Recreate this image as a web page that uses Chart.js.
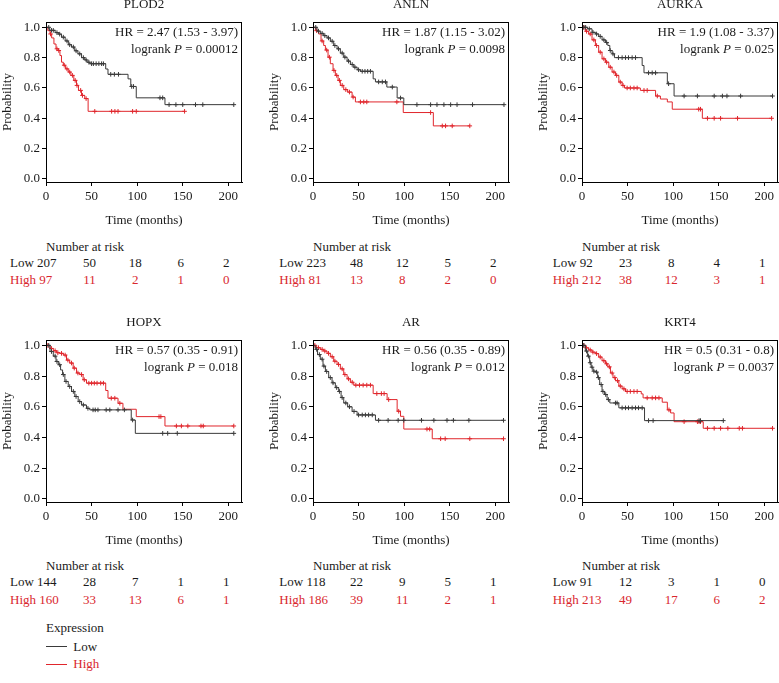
<!DOCTYPE html>
<html><head><meta charset="utf-8">
<script src="https://cdn.jsdelivr.net/npm/chart.js@4"></script>
<style>
html,body{margin:0;padding:0;background:#fff;width:779px;height:683px;overflow:hidden;position:relative;font-family:"Liberation Serif",serif;}
canvas{position:absolute;}
.t{position:absolute;font-size:13px;line-height:16px;white-space:nowrap;color:#1a1a1a;transform:translateY(-50%);}
.c{transform:translate(-50%,-50%);}
.red{color:#d9272e;}
.ln{position:absolute;height:0;border-top:1.3px solid #333;width:21px;}
</style></head><body>
<script>
// ---------- data ----------
const genes = ["PLOD2","ANLN","AURKA","HOPX","AR","KRT4"];
const hrLabels = ["HR = 2.47 (1.53 - 3.97)","HR = 1.87 (1.15 - 3.02)","HR = 1.9 (1.08 - 3.37)",
                  "HR = 0.57 (0.35 - 0.91)","HR = 0.56 (0.35 - 0.89)","HR = 0.5 (0.31 - 0.8)"];
const pValues = ["0.00012","0.0098","0.025","0.018","0.012","0.0037"];
const xTicks = [0,50,100,150,200];
const yTicks = [0,0.2,0.4,0.6,0.8,1.0];
const riskTimes = [0,50,100,150,200];

// survival steps [time, survival after step]
const plod2Low = [[0,1],[4,0.98],[10,0.965],[13.5,0.955],[17,0.935],[21,0.91],[24.5,0.885],[28,0.87],[31.5,0.845],[35,0.825],[39,0.80],[42.5,0.785],[45,0.77],[48,0.76],[65.5,0.725],[68,0.69],[90,0.66],[93,0.61],[99,0.535],[130.5,0.49],[206,0.49]];
const plod2LowCens = [3,6,8,12,15,19,23,26,30,33,37,41,44,47,50,52,55,58,61,63,71,75,79.5,94,96,125,128,135,142.5,150,164,172,206];
const plod2High = [[0,1],[2,0.978],[4.4,0.956],[6.2,0.93],[8.7,0.89],[11,0.858],[13.5,0.847],[15.3,0.814],[17,0.77],[19,0.75],[21.5,0.726],[24.4,0.705],[27.3,0.683],[30.5,0.65],[33.5,0.617],[35.6,0.584],[39,0.551],[42.5,0.53],[46.2,0.446],[152,0.446]];
const plod2HighCens = [5,12,14,20,23,26,29,32,34,38,40,44,53.5,72,75.6,79,95,99,152];

const anlnLow = [[0,1],[4.4,0.975],[8,0.96],[11.7,0.945],[15.4,0.93],[19,0.908],[22.7,0.88],[26.4,0.858],[30,0.83],[33.7,0.803],[37.4,0.777],[41,0.755],[44.7,0.737],[48.4,0.72],[52,0.71],[66,0.66],[68.5,0.64],[81,0.606],[92.3,0.534],[99.6,0.49],[209.5,0.49]];
const anlnLowCens = [3,6,10,13,17,21,24,28,32,35,39,43,46,50,54,57,60,63,72,76,79.5,87,96,114,129,136,143.6,151,158,175,209.5];
const anlnHigh = [[0,1],[2.6,0.978],[6.2,0.956],[8.8,0.91],[11.7,0.88],[13.6,0.85],[16.5,0.803],[19,0.76],[22,0.716],[24.5,0.683],[27.5,0.65],[30,0.617],[33.7,0.589],[38,0.573],[42.9,0.54],[46.5,0.508],[99,0.438],[132,0.35],[172,0.35]];
const anlnHighCens = [4,10,15,18,23,26,29,32,36,40,44,52,55.7,59,92,129,141.8,145.4,152.7,172];

const aurkaLow = [[0,1],[6,0.99],[11,0.967],[14.7,0.956],[18.3,0.94],[22,0.917],[25.7,0.9],[28.3,0.88],[30.5,0.847],[33,0.825],[35.6,0.8],[66,0.748],[68,0.70],[93.6,0.628],[101,0.547],[209,0.547]];
const aurkaLowCens = [2,4,8,12,16,20,24,27,31,34,40,44,47.7,51,55,58.7,73,77,80.7,95,112,126.6,145,154,159,174,209];
const aurkaHigh = [[0,1],[3.7,0.974],[7.3,0.956],[11,0.917],[14.7,0.88],[18.3,0.836],[22,0.792],[25.7,0.77],[29.4,0.737],[33,0.705],[36.7,0.683],[40.4,0.639],[44,0.617],[46.6,0.6],[64,0.584],[80.7,0.547],[86,0.527],[93.6,0.508],[99,0.46],[132,0.40],[208,0.40]];
const aurkaHighCens = [2,5,9,13,16,20,24,27,31,35,38,42,45,49.5,53,57,60.5,68,71.5,82.6,128,130,137.6,145,152,170.6,208];

const hopxLow = [[0,1],[4.4,0.96],[8,0.93],[11,0.895],[13.5,0.874],[16,0.84],[18.2,0.81],[20.7,0.765],[24.4,0.732],[28,0.70],[31.6,0.667],[35.3,0.634],[39,0.612],[44.4,0.59],[48,0.58],[93.5,0.514],[98,0.427],[206,0.427]];
const hopxLowCens = [3,6,10,12,15,19,22,26,30,33,37,41,46,51.6,54,57,66,70,79,86,95,128,133.5,144,206];
const hopxHigh = [[0,1],[4.4,0.98],[8,0.965],[11.6,0.952],[15.3,0.948],[19,0.937],[22.5,0.904],[26,0.885],[29.8,0.852],[33.5,0.82],[37,0.81],[40.7,0.776],[44.4,0.754],[65.5,0.706],[68,0.656],[79,0.623],[84.4,0.584],[99,0.536],[130.5,0.475],[206,0.475]];
const hopxHighCens = [2,6,10,13,17,21,24,28,31,35,39,42,47,50,53,56,60,63,71.6,75.5,81,124,126,143,148.5,155.6,170,172.5,206];

const arLow = [[0,1],[2.6,0.974],[5,0.94],[8,0.91],[11,0.865],[13.6,0.83],[17.2,0.79],[20.9,0.756],[24.5,0.725],[28.2,0.70],[30.8,0.66],[33.7,0.625],[38,0.6],[42.9,0.57],[48.4,0.547],[68.5,0.512],[209,0.512]];
const arLowCens = [4,7,10,12,15,19,22,26,29,32,36,40,45,50,54,57.5,61,65,72,82.4,93.4,99.6,119,132.6,147,154,171,209];
const arHigh = [[0,1],[4,0.985],[8,0.974],[11.7,0.963],[15.4,0.948],[19,0.926],[22.7,0.897],[26.4,0.876],[30,0.847],[33.7,0.81],[37.4,0.782],[41,0.76],[44.7,0.741],[66,0.686],[81.3,0.647],[92.3,0.571],[96,0.538],[99.6,0.455],[130.8,0.392],[209,0.392]];
const arHighCens = [2,6,10,13,17,21,24,28,32,35,39,43,47,51,55,59,63,70,75,78,83,94,125,128,140,145,172,209];

const krt4Low = [[0,1],[3.7,0.963],[6.2,0.93],[8.4,0.887],[10,0.858],[12,0.832],[14.7,0.826],[17.2,0.79],[19.4,0.745],[22,0.70],[24.6,0.68],[27.5,0.647],[30.5,0.625],[40.4,0.593],[68.6,0.51],[155,0.51]];
const krt4LowCens = [2,5,7,9,11,13,16,18,21,23,26,29,36.7,38.5,44,47.7,51,55,58.7,62,66,73,78,128.4,130,155];
const krt4High = [[0,1],[3.7,0.984],[7.3,0.97],[11,0.956],[14.7,0.946],[18.3,0.924],[22,0.9],[25.7,0.88],[28.3,0.86],[31.2,0.82],[34,0.79],[36.7,0.77],[40.4,0.735],[44,0.717],[47.7,0.7],[65,0.684],[67,0.658],[88,0.63],[93.6,0.58],[97.2,0.56],[101,0.503],[133,0.46],[209,0.46]];
const krt4HighCens = [2,5,9,12,16,20,24,27,30,33,36,39,42,46,49.5,53,57,60.5,71.5,77,80.7,84.4,95.4,112,126.6,128.4,130,137.6,145,152,160,172.5,176,209];

// number at risk
const plod2RiskLow = [207,50,18,6,2],  plod2RiskHigh = [97,11,2,1,0];
const anlnRiskLow  = [223,48,12,5,2],  anlnRiskHigh  = [81,13,8,2,0];
const aurkaRiskLow = [92,23,8,4,1],    aurkaRiskHigh = [212,38,12,3,1];
const hopxRiskLow  = [144,28,7,1,1],   hopxRiskHigh  = [160,33,13,6,1];
const arRiskLow    = [118,22,9,5,1],   arRiskHigh    = [186,39,11,2,1];
const krt4RiskLow  = [91,12,3,1,0],    krt4RiskHigh  = [213,49,17,6,2];

const legendLabels = ["Low","High"];

// ---------- build ----------
const LOW_C = '#3a3a3a', HIGH_C = '#e0262c', TXT = '#1a1a1a', RED_T = '#d9272e';
const FONT = {family:'"Liberation Serif", serif', size:13};

const panels = [
  {low:plod2Low, lowC:plod2LowCens, high:plod2High, highC:plod2HighCens, rl:plod2RiskLow, rh:plod2RiskHigh},
  {low:anlnLow, lowC:anlnLowCens, high:anlnHigh, highC:anlnHighCens, rl:anlnRiskLow, rh:anlnRiskHigh},
  {low:aurkaLow, lowC:aurkaLowCens, high:aurkaHigh, highC:aurkaHighCens, rl:aurkaRiskLow, rh:aurkaRiskHigh},
  {low:hopxLow, lowC:hopxLowCens, high:hopxHigh, highC:hopxHighCens, rl:hopxRiskLow, rh:hopxRiskHigh},
  {low:arLow, lowC:arLowCens, high:arHigh, highC:arHighCens, rl:arRiskLow, rh:arRiskHigh},
  {low:krt4Low, lowC:krt4LowCens, high:krt4High, highC:krt4HighCens, rl:krt4RiskLow, rh:krt4RiskHigh}
];

const colLeft = [0, 267, 536];
const rowTop = [0, 318];
const rowPlotH = [160, 162];
const firstColX = [10, 279.3, 552.7];
const riskRowY = [[247, 263.3, 280], [565.7, 582.3, 600]];

function survAt(steps, t){ let s = 1; for (const [tt, ss] of steps) { if (tt <= t) s = ss; } return s; }

const panelText = {
  id:'panelText',
  afterDraw(chart, args, o){
    const {ctx, chartArea:{left,right,top,bottom}} = chart;
    ctx.save();
    ctx.strokeStyle = '#000'; ctx.lineWidth = 1;
    ctx.strokeRect(Math.round(left)+0.5, Math.round(top)+0.5, Math.round(right-left)-1, Math.round(bottom-top));
    ctx.fillStyle = TXT;
    ctx.font = '13px "Liberation Serif"';
    ctx.textBaseline = 'middle';
    ctx.textAlign = 'center';
    ctx.fillText(o.title, (left+right)/2, top-17);
    ctx.textAlign = 'right';
    const rx = right - 4;
    ctx.fillText(o.hr, rx, top+10.5);
    const rest = ' = ' + o.p;
    const wRest = ctx.measureText(rest).width;
    ctx.fillText(rest, rx, top+27.5);
    ctx.font = 'italic 13px "Liberation Serif"';
    const wP = ctx.measureText('P').width;
    ctx.fillText('P', rx - wRest, top+27.5);
    ctx.font = '13px "Liberation Serif"';
    ctx.fillText('logrank ', rx - wRest - wP, top+27.5);
    ctx.restore();
  }
};

function addText(txt, x, y, cls){
  const d = document.createElement('div');
  d.className = 't ' + (cls||'');
  d.textContent = txt;
  d.style.left = x + 'px'; d.style.top = y + 'px';
  document.body.appendChild(d);
  return d;
}

panels.forEach((p, i) => {
  const col = i % 3, row = Math.floor(i / 3);
  const cv = document.createElement('canvas');
  const H = 22 + rowPlotH[row] + 48, W = 250;
  cv.width = W; cv.height = H;
  cv.style.left = colLeft[col] + 'px'; cv.style.top = rowTop[row] + 'px';
  cv.style.width = W + 'px'; cv.style.height = H + 'px';
  document.body.appendChild(cv);

  const toXY = a => a.map(([x,y]) => ({x, y}));
  const cens = (ts, steps) => ts.map(t => ({x:t, y:survAt(steps, t)}));

  const chart = new Chart(cv, {
    type:'scatter',
    data:{datasets:[
      {type:'line', data:toXY(p.high), borderColor:HIGH_C, borderWidth:1, pointRadius:0, stepped:true, fill:false, order:3},
      {type:'scatter', data:cens(p.highC, p.high), pointStyle:'cross', pointRadius:2.3, borderColor:HIGH_C, backgroundColor:HIGH_C, borderWidth:1, order:2},
      {type:'line', data:toXY(p.low), borderColor:LOW_C, borderWidth:1, pointRadius:0, stepped:true, fill:false, order:1},
      {type:'scatter', data:cens(p.lowC, p.low), pointStyle:'cross', pointRadius:2.3, borderColor:LOW_C, backgroundColor:LOW_C, borderWidth:1, order:0}
    ]},
    options:{
      responsive:false, animation:false, devicePixelRatio:1,
      layout:{padding:{top:22, left:0, right:8, bottom:0}},
      plugins:{legend:{display:false}, tooltip:{enabled:false},
        panelText:{title:genes[i], hr:hrLabels[i], p:pValues[i]}},
      scales:{
        x:{type:'linear', min:0, max:215,
          afterBuildTicks:s => { s.ticks = xTicks.map(v => ({value:v})); },
          afterFit:s => { s.height = 48; },
          grid:{drawOnChartArea:false, drawTicks:true, tickLength:4, color:'#000', lineWidth:1},
          border:{display:true, color:'#000', width:1},
          ticks:{font:FONT, color:TXT, padding:3, maxRotation:0, autoSkip:false},
          title:{display:true, text:'Time (months)', font:FONT, color:TXT, padding:{top:0, bottom:2}}
        },
        y:{type:'linear', min:-0.02, max:1.035,
          afterBuildTicks:s => { s.ticks = yTicks.map(v => ({value:v})); },
          afterFit:s => { s.width = 46; },
          grid:{drawOnChartArea:false, drawTicks:true, tickLength:4, color:'#000', lineWidth:1},
          border:{display:true, color:'#000', width:1},
          ticks:{font:FONT, color:TXT, padding:2, callback:v => Number(v).toFixed(1)},
          title:{display:true, text:'Probability', font:FONT, color:TXT, padding:{top:0, bottom:0}}
        }
      }
    },
    plugins:[panelText]
  });

  // number at risk table
  const xs = chart.scales.x;
  const [yN, yL, yH] = riskRowY[row];
  const plotLeft = colLeft[col] + chart.chartArea.left;
  addText('Number at risk', plotLeft, yN);
  addText('Low ' + p.rl[0], firstColX[col], yL);
  addText('High ' + p.rh[0], firstColX[col], yH, 'red');
  for (let k = 1; k < riskTimes.length; k++) {
    const px = colLeft[col] + xs.getPixelForValue(riskTimes[k]) - 2;
    addText(String(p.rl[k]), px, yL, 'c');
    addText(String(p.rh[k]), px, yH, 'c red');
  }
});

// legend
addText('Expression', 46, 628.3);
[[646.7, LOW_C, ''], [664, HIGH_C, 'red']].forEach(([y, c, cls], k) => {
  const l = document.createElement('div');
  l.className = 'ln'; l.style.left = '46px'; l.style.top = (y - 0.5) + 'px'; l.style.borderTopColor = c;
  document.body.appendChild(l);
  addText(legendLabels[k], 73.3, y, cls);
});
</script>
</body></html>
